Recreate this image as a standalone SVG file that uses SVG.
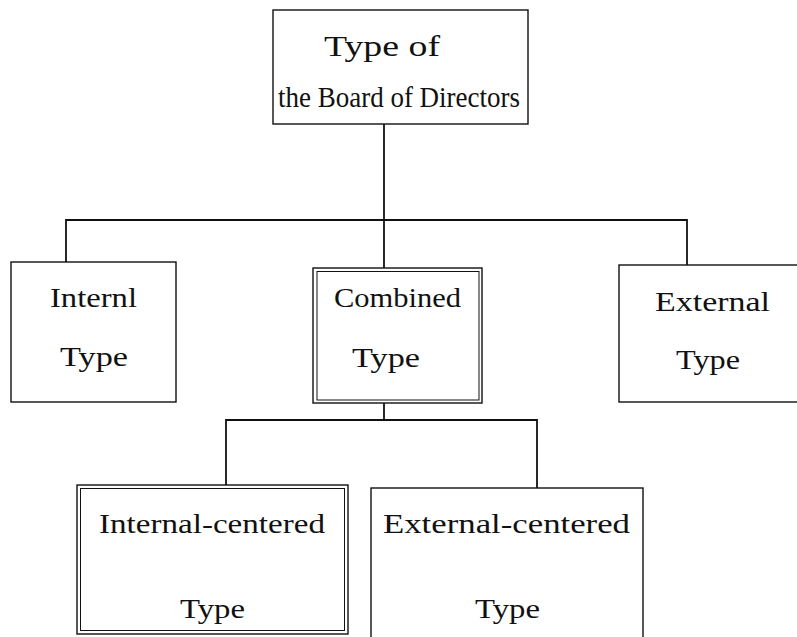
<svg xmlns="http://www.w3.org/2000/svg" width="797" height="637" viewBox="0 0 797 637">
  <style>
    .box { fill: #ffffff; stroke: #111111; stroke-width: 1.4; }
    .inner { fill: none; stroke: #111111; stroke-width: 1; }
    .wire { fill: none; stroke: #111111; stroke-width: 1.8; }
    .label { font-family: "Liberation Serif", "Times New Roman", serif; font-size: 28px; fill: #111111; text-anchor: start; }
    .title { font-size: 29px; }
  </style>
  <rect width="797" height="637" fill="#ffffff"/>

  <g id="connectors">
    <path class="wire" d="M384,124 V220"/>
    <path class="wire" d="M66,262 V220 H687 V265"/>
    <path class="wire" d="M384,220 V268"/>
    <path class="wire" d="M384,403 V420"/>
    <path class="wire" d="M226,485 V420 H537 V488"/>
  </g>

  <g id="board-type">
    <rect class="box" x="273" y="10" width="255" height="114"/>
    <text class="label title" x="324" y="56" textLength="116" lengthAdjust="spacingAndGlyphs">Type of</text>
    <text class="label title" x="278" y="107" textLength="242" lengthAdjust="spacingAndGlyphs">the Board of Directors</text>
  </g>

  <g id="internal-type">
    <rect class="box" x="11" y="262" width="165" height="140"/>
    <text class="label" x="50" y="307" textLength="87" lengthAdjust="spacingAndGlyphs">Internl</text>
    <text class="label" x="60" y="366" textLength="68" lengthAdjust="spacingAndGlyphs">Type</text>
  </g>

  <g id="combined-type">
    <rect class="box" x="313" y="268" width="169" height="135"/>
    <rect class="inner" x="317" y="271.5" width="162" height="128.5"/>
    <text class="label" x="334" y="307" textLength="127" lengthAdjust="spacingAndGlyphs">Combined</text>
    <text class="label" x="352" y="367" textLength="68" lengthAdjust="spacingAndGlyphs">Type</text>
  </g>

  <g id="external-type">
    <rect class="box" x="619" y="265" width="190" height="137"/>
    <text class="label" x="655" y="311" textLength="115" lengthAdjust="spacingAndGlyphs">External</text>
    <text class="label" x="676" y="369" textLength="64" lengthAdjust="spacingAndGlyphs">Type</text>
  </g>

  <g id="internal-centered">
    <rect class="box" x="77" y="485" width="271" height="149"/>
    <rect class="inner" x="80.5" y="488.5" width="264" height="142"/>
    <text class="label" x="99" y="533" textLength="226" lengthAdjust="spacingAndGlyphs">Internal-centered</text>
    <text class="label" x="180" y="618" textLength="65" lengthAdjust="spacingAndGlyphs">Type</text>
  </g>

  <g id="external-centered">
    <rect class="box" x="371" y="488" width="272" height="160"/>
    <text class="label" x="383" y="533" textLength="247" lengthAdjust="spacingAndGlyphs">External-centered</text>
    <text class="label" x="475" y="618" textLength="65" lengthAdjust="spacingAndGlyphs">Type</text>
  </g>
</svg>
